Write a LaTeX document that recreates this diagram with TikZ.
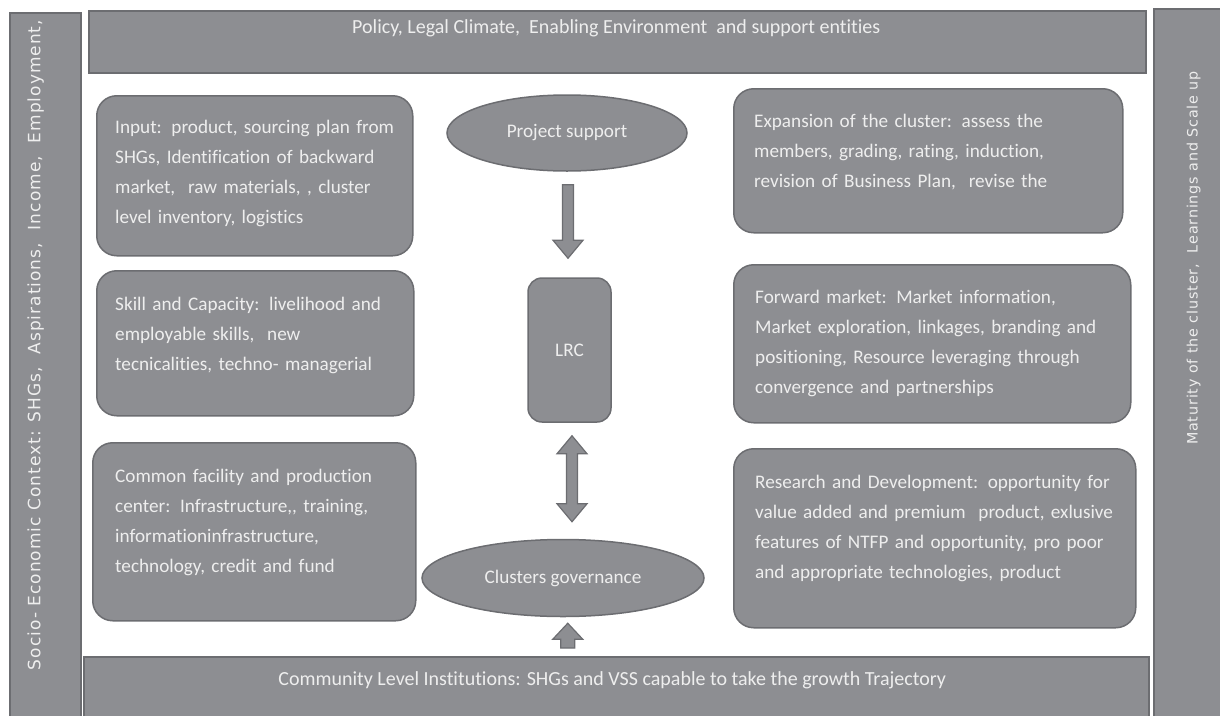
\documentclass[tikz,border=0pt]{standalone}
\usepackage{fontspec}
\setmainfont{Carlito}[Ligatures=NoCommon]
\newfontfamily\sidefont{DejaVu Sans}[LetterSpace=6]
\usetikzlibrary{calc,positioning,shapes.geometric}
\definecolor{box_gray}{RGB}{141,142,146}
\definecolor{edge_gray}{RGB}{108,109,113}
\definecolor{txt_gray}{RGB}{238,238,238}
\tikzset{
	bar/.style={draw=edge_gray, fill=box_gray, line width=1.5pt, inner sep=0pt},
	panel/.style={bar, rounded corners=20pt, anchor=north west},
	oval/.style={bar, ellipse},
	paneltext/.style={anchor=base west, text width=420pt, align=left, inner sep=0pt},
	bartext/.style={anchor=base, inner sep=0pt, font=\fontsize{20}{24}\selectfont},
	sidetext/.style={font=\sidefont\fontsize{17}{20}\selectfont, inner sep=0pt},
	arrowbody/.style={draw=edge_gray, fill=box_gray, line width=1.2pt, line join=miter},
}

\begin{document}
\begin{tikzpicture}[
		x=1pt, y=-1pt,
		every node/.style={text=txt_gray, font=\fontsize{19.2}{30}\selectfont},
	]
	\useasboundingbox (0,0) rectangle (1220,715);

	\def\headlen{18pt}
	\def\headw{15pt}
	\def\shaftw{5.5pt}

	% block arrow, tail #1, tip #2
	\newcommand{\blockarrow}[2]{%
		\coordinate (hb) at ($(#2)!\headlen!(#1)$);
		\filldraw[arrowbody] ($(#1)!\shaftw!90:(#2)$) -- ($(hb)!\shaftw!90:(#2)$)
		-- ($(hb)!\headw!90:(#2)$) -- (#2) -- ($(hb)!\headw!-90:(#2)$)
		-- ($(hb)!\shaftw!-90:(#2)$) -- ($(#1)!\shaftw!-90:(#2)$) -- cycle;
	}
	% block arrow with two heads
	\newcommand{\doublearrow}[2]{%
		\coordinate (hb1) at ($(#2)!\headlen!(#1)$);
		\coordinate (hb2) at ($(#1)!\headlen!(#2)$);
		\filldraw[arrowbody] ($(hb2)!\shaftw!90:(#2)$) -- ($(hb1)!\shaftw!90:(#2)$)
		-- ($(hb1)!\headw!90:(#2)$) -- (#2) -- ($(hb1)!\headw!-90:(#2)$)
		-- ($(hb1)!\shaftw!-90:(#2)$) -- ($(hb2)!\shaftw!-90:(#2)$)
		-- ($(hb2)!\headw!-90:(#2)$) -- (#1) -- ($(hb2)!\headw!90:(#2)$) -- cycle;
	}

	% frame bars
	\node[bar, anchor=north west, minimum width=71, minimum height=720] (context) at (9,12) {};
	\node[bar, anchor=north west, minimum width=80, minimum height=720] (maturity) at (1153,8) {};
	\node[bar, anchor=north west, minimum width=1057, minimum height=62] (policy) at (88,10) {};
	\node[bar, anchor=north west, minimum width=1065, minimum height=70] (community) at (83,656) {};

	\node[bartext] (policy-text) at ($(policy.north)+(-1,23)$)
	{Policy, Legal Climate,\ \ Enabling Environment\ \ and support entities};
	\node[bartext] (community-text) at ($(community.north)+(-4,29)$)
	{Community Level Institutions: SHGs and VSS capable to take the growth Trajectory};
	\node[sidetext, rotate=90] (context-text) at ($(context.north)+(-9.5,333)$)
	{Socio- Economic Context: SHGs,\ \ Aspirations,\ \ Income,\ \ Employment,};
	\node[sidetext, rotate=90, font=\sidefont\fontsize{14.3}{16}\selectfont] (maturity-text) at ($(maturity.north)+(0,250)$)
	{Maturity of the cluster,\ \ Learnings and Scale up};

	% left column
	\node[panel, minimum width=316, minimum height=160] (input) at (96,95) {};
	\node[paneltext] (input-text) at ($(input.north west)+(19,38)$)
	{Input: product, sourcing plan from\\SHGs, Identification of backward\\market,\ \ raw materials, , cluster\\level inventory, logistics};

	\node[panel, minimum width=317, minimum height=145] (skill) at (96,270) {};
	\node[paneltext] (skill-text) at ($(skill.north west)+(19,40)$)
	{Skill and Capacity: livelihood and\\employable skills,\ \ new\\tecnicalities, techno- managerial};

	\node[panel, minimum width=323, minimum height=178] (facility) at (92,442) {};
	\node[paneltext] (facility-text) at ($(facility.north west)+(23,40)$)
	{Common facility and production\\center: Infrastructure,{},\ training,\\informationinfrastructure,\\technology, credit and fund};

	% right column
	\node[panel, minimum width=389, minimum height=144] (expansion) at (733,88) {};
	\node[paneltext] (expansion-text) at ($(expansion.north west)+(21,39)$)
	{Expansion of the cluster: assess the\\members, grading, rating, induction,\\revision of Business Plan,\ \ revise the};

	\node[panel, minimum width=397, minimum height=158] (forward) at (733,264) {};
	\node[paneltext] (forward-text) at ($(forward.north west)+(22,39)$)
	{Forward market: Market information,\\Market exploration, linkages, branding and\\positioning, Resource leveraging through\\convergence and partnerships};

	\node[panel, minimum width=402, minimum height=179] (research) at (733,448) {};
	\node[paneltext] (research-text) at ($(research.north west)+(22,40)$)
	{Research and Development: opportunity for\\value added and premium\ \ product, exlusive\\features of NTFP and opportunity, pro poor\\and appropriate technologies, product};

	% centre
	\node[oval, minimum width=240, minimum height=76] (support) at (567,133) {Project support};
	\node[bar, rounded corners=14pt, minimum width=83, minimum height=144] (lrc) at (569.5,350) {LRC};
	\node[oval, minimum width=282, minimum height=77] (governance) at (563,578) {Clusters governance};

	\coordinate (a1-tail) at ($(support.south)+(1,13)$);
	\coordinate (a1-tip) at ($(a1-tail |- lrc.north)+(0,-19)$);
	\blockarrow{a1-tail}{a1-tip}

	\coordinate (a2-top) at ($(lrc.south)+(2.5,13)$);
	\coordinate (a2-bottom) at ($(a2-top |- governance.north)+(0,-17)$);
	\doublearrow{a2-top}{a2-bottom}

	\def\headlen{16pt}
	\def\shaftw{7pt}
	\coordinate (a3-tail) at ($(community.north)+(-48.5,-8)$);
	\coordinate (a3-tip) at ($(a3-tail |- governance.south)+(0,6)$);
	\blockarrow{a3-tail}{a3-tip}

\end{tikzpicture}
\end{document}
